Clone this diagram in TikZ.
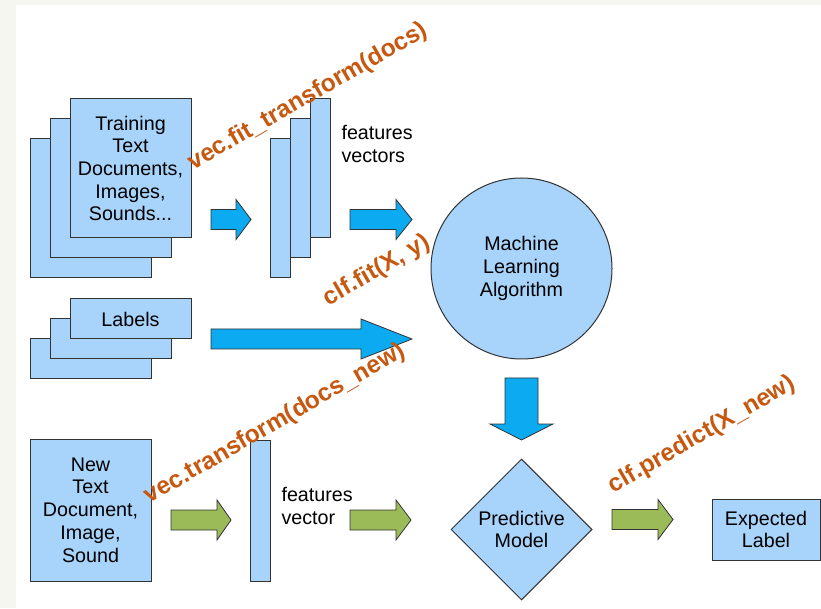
\documentclass[tikz,border=0pt]{standalone}
\usepackage{fontspec}
\setmainfont{Liberation Sans}
\usetikzlibrary{shapes.geometric}
\definecolor{paleblue}{RGB}{168,212,251}
\definecolor{brightblue}{RGB}{12,170,240}
\definecolor{leafgreen}{RGB}{155,187,89}
\definecolor{rust}{RGB}{198,88,16}
\definecolor{edgegray}{RGB}{51,51,51}
\definecolor{paper}{RGB}{246,246,241}
\begin{document}
\begin{tikzpicture}[x=1pt,y=1pt,
    box/.style={draw=edgegray,fill=paleblue,line width=1pt,inner sep=0pt,align=center,
      font=\fontsize{19.7}{22.7}\selectfont},
    doc/.style={box,minimum width=121pt,minimum height=139pt},
    vec/.style={box,minimum width=20pt,minimum height=139pt},
    tag/.style={box,minimum width=121pt,minimum height=40pt},
    note/.style={anchor=west,align=left,font=\fontsize{19.7}{22.7}\selectfont},
    call/.style={text=rust,rotate=30,font=\fontsize{24.5}{28}\selectfont\bfseries},
    fat/.style={draw=edgegray,line width=0.8pt}]
  \useasboundingbox (0,0) rectangle (821,608);
  \fill[white] (0,0) rectangle (821,608);
  \fill[paper] (0,0) rectangle (16,608);
  \fill[paper] (16,603) rectangle (821,608);
  % training documents and their feature vectors
  \foreach \i in {2,1}{
    \node[doc] (train\i) at ({130.5-20*\i},{439.5-20*\i}) {};
    \node[vec] (feat\i) at ({320.5-20*\i},{439.5-20*\i}) {};
    \node[tag] (lab\i) at ({130.5-20*\i},{289-20*\i}) {};
  }
  \node[doc] (train0) at (130.5,439.5) {Training\\Text\\Documents,\\Images,\\Sounds...};
  \node[vec] (feat0) at (320.5,439.5) {};
  \node[tag] (lab0) at (130.5,289) {Labels};
  \node[note] (featnote) at (338,464) {features\\vectors};
  % new document and its feature vector
  \node[box,minimum width=121pt,minimum height=142pt] (newdoc) at (90.5,98)
    {New\\Text\\Document,\\Image,\\Sound};
  \node[box,minimum width=20pt,minimum height=141pt] (newfeat) at (260,97.5) {};
  \node[note] (newnote) at (278,102) {features\\vector};
  % learner, model and output
  \node[box,circle,minimum size=181pt] (algo) at (521.5,339.5) {Machine\\Learning\\Algorithm};
  \node[box,diamond,minimum width=141pt,minimum height=141pt] (model) at (521.5,78.5) {Predictive\\Model};
  \node[box,minimum width=108pt,minimum height=61pt] (result) at (766,78.5) {Expected\\Label};
  % fat arrows
  \foreach \xa/\xh/\xb/\y/\c in {211/236/251/388.5/brightblue, 350/396/412/388.5/brightblue,
      211/361/412/269/brightblue, 171/217/231/88/leafgreen, 350/396/411/88/leafgreen,
      612/658/673/88.5/leafgreen}{
    \filldraw[fat,fill=\c] (\xa,\y-10) -- (\xh,\y-10) -- (\xh,\y-20) -- (\xb,\y)
      -- (\xh,\y+20) -- (\xh,\y+10) -- (\xa,\y+10) -- cycle;
  }
  \filldraw[fat,fill=brightblue] (505,230) -- (538,230) -- (538,184) -- (553,184)
    -- (521.5,168) -- (490,184) -- (505,184) -- cycle;
  % scikit-learn calls
  \node[call] (fitcall) at (308,511) {vec.fit\_transform(docs)};
  \node[call] (clfcall) at (377,337) {clf.fit(X, y)};
  \node[call] (trcall) at (275,184) {vec.transform(docs\_new)};
  \node[call] (predcall) at (702,173) {clf.predict(X\_new)};
\end{tikzpicture}
\end{document}
